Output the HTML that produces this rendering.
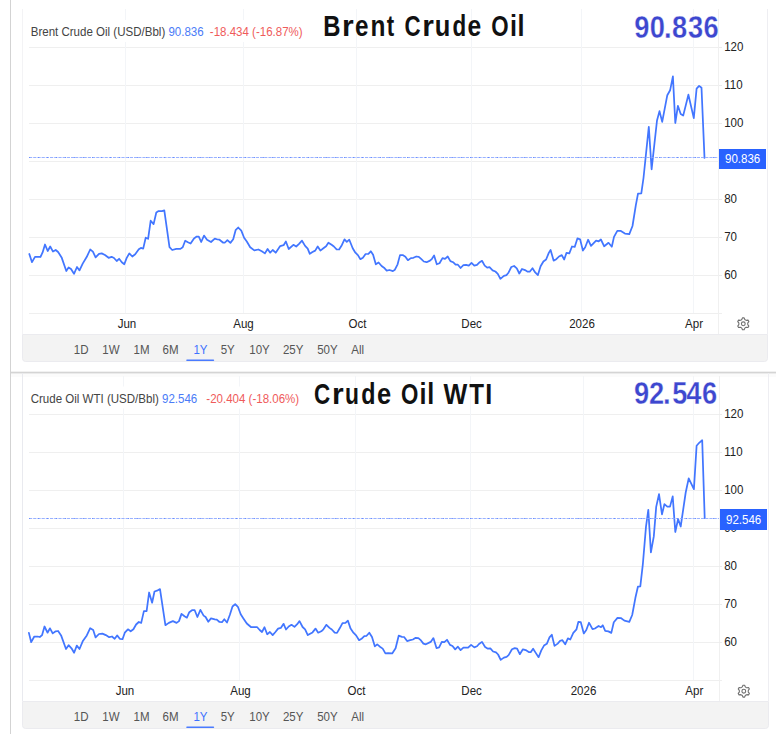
<!DOCTYPE html>
<html><head><meta charset="utf-8"><style>
html,body{margin:0;padding:0;background:#fff;}
body{width:776px;height:734px;overflow:hidden;position:relative;}
svg{position:absolute;left:0;top:0;display:block;}
text{font-family:"Liberation Sans", sans-serif;}
.lg{font-size:12.4px;fill:#444;}
.ax{font-size:12.4px;fill:#222;}
.red{fill:#ef5b5b;}
.blue{fill:#4a7bf7;}
.rg{font-size:12.4px;fill:#555;}
.rg.on{fill:#3f72ff;}
.bx{font-size:12.4px;fill:#fff;}
.tt{font-size:28.6px;font-weight:bold;fill:#111;stroke:none;}
.big{font-size:31px;font-weight:bold;fill:#3d47cf;stroke:#fff;stroke-width:0.3px;}
</style></head><body>
<svg width="776" height="734" viewBox="0 0 776 734">
<rect x="10" y="0" width="1" height="734" fill="#d3d3d3"/>
<rect x="11" y="371" width="765" height="1" fill="#f1f1f1"/>
<rect x="11" y="372" width="765" height="1" fill="#d4d4d4"/>
<rect x="11" y="373" width="765" height="1" fill="#ebebeb"/>
<rect x="11" y="374" width="765" height="3" fill="#fbfbfb"/>
<rect x="22" y="9" width="1" height="325" fill="#f3f3f5"/>
<rect x="767" y="9" width="1" height="325" fill="#eeeef2"/>
<rect x="29" y="47" width="693" height="1" fill="#efefef"/>
<rect x="29" y="85" width="693" height="1" fill="#efefef"/>
<rect x="29" y="123" width="693" height="1" fill="#efefef"/>
<rect x="29" y="161" width="693" height="1" fill="#efefef"/>
<rect x="29" y="199" width="693" height="1" fill="#efefef"/>
<rect x="29" y="237" width="693" height="1" fill="#efefef"/>
<rect x="29" y="275" width="693" height="1" fill="#efefef"/>
<rect x="29" y="313" width="693" height="1" fill="#efefef"/>
<rect x="125" y="9" width="1" height="304" fill="#f3f5f8"/>
<rect x="243" y="9" width="1" height="304" fill="#f3f5f8"/>
<rect x="356" y="9" width="1" height="304" fill="#f3f5f8"/>
<rect x="471" y="9" width="1" height="304" fill="#f3f5f8"/>
<rect x="581" y="9" width="1" height="304" fill="#f3f5f8"/>
<rect x="693" y="9" width="1" height="304" fill="#f3f5f8"/>
<rect x="718" y="9" width="1" height="325" fill="#f0f0f0"/>
<rect x="29" y="20" width="277" height="22" fill="#fff"/>
<path d="M22.5,334.5 H767.5 V358.5 Q767.5,361.5 764.5,361.5 H25.5 Q22.5,361.5 22.5,358.5 Z" fill="#f3f3f3" stroke="#ebebef" stroke-width="1"/>
<g transform="translate(724.20,51.30) scale(0.93,1)"><text x="0" y="0" class="ax">120</text></g>
<rect x="719" y="47" width="3" height="1" fill="#ececec"/>
<g transform="translate(724.20,89.30) scale(0.93,1)"><text x="0" y="0" class="ax">110</text></g>
<rect x="719" y="85" width="3" height="1" fill="#ececec"/>
<g transform="translate(724.20,127.30) scale(0.93,1)"><text x="0" y="0" class="ax">100</text></g>
<rect x="719" y="123" width="3" height="1" fill="#ececec"/>
<g transform="translate(724.20,165.30) scale(0.93,1)"><text x="0" y="0" class="ax">90</text></g>
<rect x="719" y="161" width="3" height="1" fill="#ececec"/>
<g transform="translate(724.20,203.30) scale(0.93,1)"><text x="0" y="0" class="ax">80</text></g>
<rect x="719" y="199" width="3" height="1" fill="#ececec"/>
<g transform="translate(724.20,241.30) scale(0.93,1)"><text x="0" y="0" class="ax">70</text></g>
<rect x="719" y="237" width="3" height="1" fill="#ececec"/>
<g transform="translate(724.20,279.30) scale(0.93,1)"><text x="0" y="0" class="ax">60</text></g>
<rect x="719" y="275" width="3" height="1" fill="#ececec"/>
<g transform="translate(127.00,327.80) scale(0.93,1)"><text x="0" y="0" class="ax" text-anchor="middle">Jun</text></g>
<g transform="translate(243.50,327.80) scale(0.93,1)"><text x="0" y="0" class="ax" text-anchor="middle">Aug</text></g>
<g transform="translate(357.50,327.80) scale(0.93,1)"><text x="0" y="0" class="ax" text-anchor="middle">Oct</text></g>
<g transform="translate(471.60,327.80) scale(0.93,1)"><text x="0" y="0" class="ax" text-anchor="middle">Dec</text></g>
<g transform="translate(582.00,327.80) scale(0.93,1)"><text x="0" y="0" class="ax" text-anchor="middle">2026</text></g>
<g transform="translate(694.00,327.80) scale(0.93,1)"><text x="0" y="0" class="ax" text-anchor="middle">Apr</text></g>
<g transform="translate(73.80,353.80) scale(0.93,1)"><text x="0" y="0" class="rg">1D</text></g>
<g transform="translate(102.30,353.80) scale(0.93,1)"><text x="0" y="0" class="rg">1W</text></g>
<g transform="translate(133.60,353.80) scale(0.93,1)"><text x="0" y="0" class="rg">1M</text></g>
<g transform="translate(162.50,353.80) scale(0.93,1)"><text x="0" y="0" class="rg">6M</text></g>
<g transform="translate(193.40,353.80) scale(0.93,1)"><text x="0" y="0" class="rg on">1Y</text></g>
<g transform="translate(220.70,353.80) scale(0.93,1)"><text x="0" y="0" class="rg">5Y</text></g>
<g transform="translate(249.30,353.80) scale(0.93,1)"><text x="0" y="0" class="rg">10Y</text></g>
<g transform="translate(282.90,353.80) scale(0.93,1)"><text x="0" y="0" class="rg">25Y</text></g>
<g transform="translate(317.20,353.80) scale(0.93,1)"><text x="0" y="0" class="rg">50Y</text></g>
<g transform="translate(351.30,353.80) scale(0.93,1)"><text x="0" y="0" class="rg">All</text></g>
<rect x="186.2" y="359.5" width="28" height="1.6" rx="0.8" fill="#4a7bff"/>
<path d="M741.10,319.99 L741.80,319.45 L742.46,317.86 L744.14,317.86 L744.80,319.45 L745.50,319.99 L746.32,320.33 L748.03,320.11 L748.86,321.55 L747.82,322.92 L747.70,323.80 L747.82,324.68 L748.86,326.05 L748.03,327.49 L746.32,327.27 L745.50,327.61 L744.80,328.15 L744.14,329.74 L742.46,329.74 L741.80,328.15 L741.10,327.61 L740.28,327.27 L738.57,327.49 L737.74,326.05 L738.78,324.68 L738.90,323.80 L738.78,322.92 L737.74,321.55 L738.57,320.11 L740.28,320.33Z" fill="none" stroke="#6f6f6f" stroke-width="1.1" stroke-linejoin="round"/><circle cx="743.3" cy="323.8" r="1.9" fill="none" stroke="#6f6f6f" stroke-width="1.1"/>
<path d="M29.3,254.0 L32.0,262.2 L35.0,256.8 L39.0,256.8 L40.4,257.0 L42.5,252.7 L45.0,244.5 L47.7,251.0 L50.2,246.5 L53.0,251.6 L55.7,250.0 L58.1,252.0 L61.6,257.4 L66.3,271.0 L68.6,267.4 L71.0,269.0 L74.0,273.8 L77.0,267.0 L79.5,270.4 L82.7,263.6 L86.8,256.8 L90.2,249.5 L92.9,251.6 L95.6,257.4 L99.0,253.8 L101.7,253.4 L105.0,255.0 L108.6,257.8 L111.6,256.8 L114.0,258.0 L116.7,261.0 L119.1,258.8 L121.8,262.2 L124.3,264.2 L126.6,258.1 L129.3,253.4 L132.3,256.5 L135.2,254.3 L138.8,249.3 L140.9,247.9 L143.2,248.6 L145.7,237.7 L148.1,238.8 L150.7,220.7 L153.6,224.1 L156.3,212.5 L158.6,211.1 L162.0,211.1 L164.3,210.4 L169.5,247.2 L172.2,250.0 L176.3,248.9 L180.4,248.9 L182.7,247.2 L185.2,240.7 L187.9,242.2 L190.6,243.5 L194.0,238.4 L196.7,236.6 L198.8,236.6 L201.2,242.0 L204.0,235.6 L207.0,239.7 L211.0,242.0 L214.8,238.6 L217.5,239.5 L219.5,239.7 L222.9,242.5 L225.0,242.5 L227.4,240.1 L230.4,242.9 L233.2,239.3 L235.6,230.2 L238.2,227.5 L241.3,230.6 L244.1,237.7 L246.8,241.5 L250.2,247.2 L254.3,250.4 L258.4,249.5 L261.8,251.3 L264.9,253.4 L267.6,249.0 L270.2,252.7 L272.7,250.0 L275.7,252.7 L280.2,246.1 L283.6,245.2 L285.9,241.5 L288.7,249.0 L293.4,244.8 L296.2,246.5 L298.8,244.1 L302.0,240.7 L305.1,245.9 L307.7,248.6 L309.8,253.8 L312.5,252.0 L315.2,250.6 L317.7,246.5 L320.4,250.6 L323.4,248.3 L326.1,246.3 L328.4,242.7 L331.6,244.8 L333.9,246.5 L336.6,249.3 L339.1,249.5 L341.8,245.2 L344.5,239.3 L346.8,241.8 L349.3,239.7 L352.7,248.3 L355.4,252.7 L357.9,255.1 L360.4,259.2 L362.9,257.7 L365.6,254.0 L368.4,253.8 L370.8,251.3 L373.1,254.7 L375.8,264.3 L378.6,262.5 L381.6,266.0 L384.0,267.7 L386.7,270.7 L389.5,270.0 L392.9,271.1 L394.9,269.7 L397.6,264.3 L400.0,255.1 L402.7,255.1 L405.4,256.8 L407.9,260.2 L410.9,258.1 L413.4,257.8 L416.3,256.5 L418.8,256.8 L421.1,258.8 L423.8,261.5 L426.6,262.2 L430.0,260.6 L432.0,258.8 L434.1,255.4 L436.8,264.3 L439.5,263.3 L442.5,258.1 L445.0,258.8 L447.7,256.5 L450.4,261.1 L453.1,262.2 L455.6,264.7 L457.9,264.7 L460.6,268.0 L463.4,265.2 L466.1,264.9 L468.8,265.6 L471.5,262.9 L474.3,265.6 L477.0,264.9 L479.7,262.2 L482.0,260.8 L484.7,265.6 L487.2,267.7 L489.5,267.2 L492.6,270.4 L495.4,271.5 L497.8,273.8 L500.4,278.8 L503.9,275.8 L506.6,275.1 L508.6,272.4 L511.3,267.0 L514.1,266.0 L516.8,268.3 L519.3,273.5 L522.0,269.0 L525.0,270.1 L527.7,271.7 L529.7,271.7 L532.5,268.3 L535.2,272.4 L537.9,275.1 L540.6,266.3 L543.4,261.5 L546.1,259.5 L548.8,252.9 L550.6,249.9 L553.6,260.6 L556.3,259.2 L559.0,256.5 L561.8,255.1 L564.2,259.5 L566.5,252.9 L569.3,253.4 L572.0,246.5 L574.7,246.9 L577.4,238.4 L580.1,239.3 L582.9,250.6 L585.2,247.2 L588.1,239.7 L591.0,245.9 L596.1,240.6 L598.7,241.3 L600.9,239.5 L604.2,246.3 L608.5,242.8 L611.8,246.7 L614.0,236.9 L617.3,230.8 L620.5,230.8 L624.9,233.6 L629.3,234.1 L632.5,226.0 L635.8,205.3 L638.0,193.7 L641.3,193.3 L643.5,178.0 L648.8,126.8 L651.6,169.3 L657.0,120.5 L659.5,111.1 L662.2,121.9 L667.3,95.2 L670.1,90.3 L672.9,76.4 L675.3,123.0 L677.9,105.8 L680.7,114.0 L683.2,115.6 L688.4,94.7 L693.8,118.1 L696.6,88.6 L699.1,85.9 L701.5,87.8 L704.5,157.9" fill="none" stroke="#4276ff" stroke-width="1.75" stroke-linejoin="round" stroke-linecap="round"/>
<line x1="29" y1="157.5" x2="718" y2="157.5" stroke="#8aa6ff" stroke-width="1" stroke-dasharray="3.2,1" opacity="0.85"/><line x1="29" y1="157.5" x2="718" y2="157.5" stroke="#5f86ff" stroke-width="1" stroke-dasharray="1,8" opacity="0.8"/>
<rect x="719" y="149" width="47" height="20" fill="#2962ff"/>
<g transform="translate(725.00,162.70) scale(0.93,1)"><text x="0" y="0" class="bx">90.836</text></g>
<g transform="translate(30.70,35.80) scale(0.93,1)"><text x="0" y="0" class="lg">Brent Crude Oil (USD/Bbl) <tspan class="blue">90.836</tspan></text></g>
<g transform="translate(209.80,35.80) scale(0.93,1)"><text x="0" y="0" class="lg red">-18.434 (-16.87%)</text></g>
<g transform="translate(332.20,35.9) scale(0.834,1)"><text x="-10.65" y="0" class="tt">B</text></g><g transform="translate(348.50,35.9) scale(1.050,1)"><text x="-6.30" y="0" class="tt">r</text></g><g transform="translate(361.75,35.9) scale(0.848,1)"><text x="-8.00" y="0" class="tt">e</text></g><g transform="translate(377.90,35.9) scale(0.855,1)"><text x="-8.80" y="0" class="tt">n</text></g><g transform="translate(390.50,35.9) scale(0.780,1)"><text x="-4.75" y="0" class="tt">t</text></g><g transform="translate(412.65,35.9) scale(0.780,1)"><text x="-10.50" y="0" class="tt">C</text></g><g transform="translate(428.90,35.9) scale(1.045,1)"><text x="-6.30" y="0" class="tt">r</text></g><g transform="translate(442.55,35.9) scale(0.891,1)"><text x="-8.70" y="0" class="tt">u</text></g><g transform="translate(459.05,35.9) scale(0.785,1)"><text x="-8.40" y="0" class="tt">d</text></g><g transform="translate(474.35,35.9) scale(0.862,1)"><text x="-8.00" y="0" class="tt">e</text></g><g transform="translate(500.00,35.9) scale(0.780,1)"><text x="-11.10" y="0" class="tt">O</text></g><g transform="translate(513.35,35.9) scale(0.880,1)"><text x="-3.95" y="0" class="tt">i</text></g><g transform="translate(521.00,35.9) scale(0.880,1)"><text x="-3.95" y="0" class="tt">l</text></g>
<g transform="translate(641.70,37.8) scale(0.880,1)"><text x="-8.60" y="0" class="big">9</text></g><g transform="translate(657.20,37.8) scale(0.880,1)"><text x="-8.60" y="0" class="big">0</text></g><g transform="translate(667.90,37.8) scale(0.880,1)"><text x="-4.30" y="0" class="big">.</text></g><g transform="translate(679.50,37.8) scale(0.880,1)"><text x="-8.65" y="0" class="big">8</text></g><g transform="translate(695.40,37.8) scale(0.880,1)"><text x="-8.40" y="0" class="big">3</text></g><g transform="translate(711.10,37.8) scale(0.880,1)"><text x="-8.60" y="0" class="big">6</text></g>
<rect x="22" y="373" width="1" height="328" fill="#e9eaef"/>
<rect x="768" y="373" width="1" height="328" fill="#eeeef2"/>
<rect x="29" y="414" width="693" height="1" fill="#efefef"/>
<rect x="29" y="452" width="693" height="1" fill="#efefef"/>
<rect x="29" y="490" width="693" height="1" fill="#efefef"/>
<rect x="29" y="528" width="693" height="1" fill="#efefef"/>
<rect x="29" y="566" width="693" height="1" fill="#efefef"/>
<rect x="29" y="604" width="693" height="1" fill="#efefef"/>
<rect x="29" y="642" width="693" height="1" fill="#efefef"/>
<rect x="29" y="680" width="693" height="1" fill="#efefef"/>
<rect x="123" y="376" width="1" height="304" fill="#f3f5f8"/>
<rect x="239" y="376" width="1" height="304" fill="#f3f5f8"/>
<rect x="355" y="376" width="1" height="304" fill="#f3f5f8"/>
<rect x="470" y="376" width="1" height="304" fill="#f3f5f8"/>
<rect x="583" y="376" width="1" height="304" fill="#f3f5f8"/>
<rect x="693" y="376" width="1" height="304" fill="#f3f5f8"/>
<rect x="719" y="376" width="1" height="325" fill="#f0f0f0"/>
<rect x="29" y="386.5" width="272" height="22" fill="#fff"/>
<path d="M22.5,701.5 H768.5 V725.5 Q768.5,728.5 765.5,728.5 H25.5 Q22.5,728.5 22.5,725.5 Z" fill="#f3f3f3" stroke="#ebebef" stroke-width="1"/>
<g transform="translate(724.20,418.30) scale(0.93,1)"><text x="0" y="0" class="ax">120</text></g>
<rect x="719" y="414" width="3" height="1" fill="#ececec"/>
<g transform="translate(724.20,456.30) scale(0.93,1)"><text x="0" y="0" class="ax">110</text></g>
<rect x="719" y="452" width="3" height="1" fill="#ececec"/>
<g transform="translate(724.20,494.30) scale(0.93,1)"><text x="0" y="0" class="ax">100</text></g>
<rect x="719" y="490" width="3" height="1" fill="#ececec"/>
<g transform="translate(724.20,532.30) scale(0.93,1)"><text x="0" y="0" class="ax">90</text></g>
<rect x="719" y="528" width="3" height="1" fill="#ececec"/>
<g transform="translate(724.20,570.30) scale(0.93,1)"><text x="0" y="0" class="ax">80</text></g>
<rect x="719" y="566" width="3" height="1" fill="#ececec"/>
<g transform="translate(724.20,608.30) scale(0.93,1)"><text x="0" y="0" class="ax">70</text></g>
<rect x="719" y="604" width="3" height="1" fill="#ececec"/>
<g transform="translate(724.20,646.30) scale(0.93,1)"><text x="0" y="0" class="ax">60</text></g>
<rect x="719" y="642" width="3" height="1" fill="#ececec"/>
<g transform="translate(125.00,694.80) scale(0.93,1)"><text x="0" y="0" class="ax" text-anchor="middle">Jun</text></g>
<g transform="translate(240.50,694.80) scale(0.93,1)"><text x="0" y="0" class="ax" text-anchor="middle">Aug</text></g>
<g transform="translate(356.50,694.80) scale(0.93,1)"><text x="0" y="0" class="ax" text-anchor="middle">Oct</text></g>
<g transform="translate(471.60,694.80) scale(0.93,1)"><text x="0" y="0" class="ax" text-anchor="middle">Dec</text></g>
<g transform="translate(583.50,694.80) scale(0.93,1)"><text x="0" y="0" class="ax" text-anchor="middle">2026</text></g>
<g transform="translate(694.30,694.80) scale(0.93,1)"><text x="0" y="0" class="ax" text-anchor="middle">Apr</text></g>
<g transform="translate(73.80,720.60) scale(0.93,1)"><text x="0" y="0" class="rg">1D</text></g>
<g transform="translate(102.30,720.60) scale(0.93,1)"><text x="0" y="0" class="rg">1W</text></g>
<g transform="translate(133.60,720.60) scale(0.93,1)"><text x="0" y="0" class="rg">1M</text></g>
<g transform="translate(162.50,720.60) scale(0.93,1)"><text x="0" y="0" class="rg">6M</text></g>
<g transform="translate(193.40,720.60) scale(0.93,1)"><text x="0" y="0" class="rg on">1Y</text></g>
<g transform="translate(220.70,720.60) scale(0.93,1)"><text x="0" y="0" class="rg">5Y</text></g>
<g transform="translate(249.30,720.60) scale(0.93,1)"><text x="0" y="0" class="rg">10Y</text></g>
<g transform="translate(282.90,720.60) scale(0.93,1)"><text x="0" y="0" class="rg">25Y</text></g>
<g transform="translate(317.20,720.60) scale(0.93,1)"><text x="0" y="0" class="rg">50Y</text></g>
<g transform="translate(351.30,720.60) scale(0.93,1)"><text x="0" y="0" class="rg">All</text></g>
<rect x="186.2" y="726.5" width="28" height="1.6" rx="0.8" fill="#4a7bff"/>
<path d="M741.60,687.39 L742.30,686.85 L742.96,685.26 L744.64,685.26 L745.30,686.85 L746.00,687.39 L746.82,687.73 L748.53,687.51 L749.36,688.95 L748.32,690.32 L748.20,691.20 L748.32,692.08 L749.36,693.45 L748.53,694.89 L746.82,694.67 L746.00,695.01 L745.30,695.55 L744.64,697.14 L742.96,697.14 L742.30,695.55 L741.60,695.01 L740.78,694.67 L739.07,694.89 L738.24,693.45 L739.28,692.08 L739.40,691.20 L739.28,690.32 L738.24,688.95 L739.07,687.51 L740.78,687.73Z" fill="none" stroke="#6f6f6f" stroke-width="1.1" stroke-linejoin="round"/><circle cx="743.8" cy="691.2" r="1.9" fill="none" stroke="#6f6f6f" stroke-width="1.1"/>
<path d="M28.9,632.9 L31.2,642.2 L34.3,636.5 L37.7,636.5 L39.8,637.0 L42.1,635.1 L44.5,626.5 L47.5,632.7 L50.0,628.3 L52.7,633.4 L55.7,631.3 L58.1,631.0 L61.1,635.4 L66.0,649.0 L68.6,645.2 L71.5,648.3 L74.1,652.8 L76.8,645.6 L79.5,649.0 L82.7,641.3 L86.8,635.4 L90.2,628.2 L93.2,630.0 L95.6,637.4 L99.0,634.0 L102.4,633.6 L105.8,635.1 L109.2,637.2 L112.0,636.5 L114.7,638.8 L117.1,635.4 L119.8,638.8 L122.5,639.2 L124.8,632.7 L127.9,629.3 L130.7,631.3 L133.4,629.3 L136.1,624.5 L138.8,622.0 L141.2,622.9 L143.9,611.1 L146.6,611.1 L149.1,592.5 L152.1,602.7 L154.5,591.5 L157.0,590.7 L160.0,589.1 L165.4,625.2 L168.8,622.9 L172.9,621.1 L176.6,622.9 L179.0,621.1 L181.5,613.9 L184.5,616.3 L186.9,617.7 L189.3,612.2 L192.0,610.2 L194.7,610.2 L197.4,617.0 L200.4,609.9 L203.6,615.6 L205.6,617.0 L208.3,621.8 L211.0,618.4 L214.8,619.3 L216.8,619.7 L219.5,622.0 L222.0,622.2 L224.3,619.3 L227.0,622.5 L229.8,615.0 L232.5,606.5 L235.2,604.1 L237.9,606.8 L240.7,614.3 L243.4,618.4 L246.8,623.5 L250.9,627.0 L257.0,627.0 L259.7,630.0 L262.0,632.0 L264.5,627.2 L267.2,634.3 L269.9,632.0 L272.7,635.1 L275.4,632.0 L278.1,628.6 L280.8,627.9 L283.6,623.8 L286.0,629.5 L288.7,626.5 L291.5,624.8 L294.5,626.9 L297.2,624.2 L299.5,621.1 L302.6,627.0 L305.1,629.3 L307.8,635.1 L312.5,632.4 L315.5,628.6 L318.2,632.7 L321.3,631.3 L323.4,629.3 L326.4,624.8 L329.5,627.9 L331.8,629.5 L334.7,632.7 L337.0,632.9 L339.7,628.3 L342.5,623.1 L345.5,622.9 L347.9,620.7 L350.6,628.6 L353.4,632.7 L356.1,635.4 L359.1,640.2 L361.5,638.8 L364.3,636.1 L366.6,635.8 L369.3,632.7 L372.0,637.0 L374.8,646.3 L377.2,644.3 L379.9,646.7 L382.7,648.6 L385.4,653.4 L388.1,653.1 L392.2,653.4 L395.6,648.3 L398.7,635.7 L402.0,636.8 L404.1,637.0 L407.1,641.1 L410.2,640.2 L412.9,639.5 L415.7,637.8 L418.4,638.1 L420.4,639.8 L423.4,643.6 L425.9,644.3 L430.7,641.9 L433.4,638.1 L436.5,648.1 L439.1,647.4 L441.8,641.8 L444.3,642.2 L447.0,639.8 L450.0,644.9 L452.5,646.0 L455.2,649.4 L457.9,646.7 L460.6,650.1 L463.4,647.7 L468.1,647.7 L471.1,644.9 L474.3,647.4 L477.0,646.3 L479.0,644.0 L482.0,641.9 L485.1,647.0 L487.9,648.7 L490.3,648.3 L493.1,651.5 L496.0,652.4 L498.1,654.5 L500.7,659.9 L503.9,657.6 L506.6,656.8 L508.6,655.1 L512.0,649.3 L514.8,648.1 L517.1,648.6 L519.8,654.2 L522.9,649.3 L525.7,650.1 L529.1,652.2 L530.7,652.2 L533.1,648.7 L535.9,653.1 L538.6,657.2 L541.3,650.4 L544.0,645.6 L546.8,643.8 L549.5,637.4 L551.8,634.7 L554.5,645.9 L557.7,643.6 L560.1,640.8 L562.4,640.2 L565.2,644.3 L567.9,638.4 L570.3,639.5 L573.3,632.9 L576.5,629.3 L578.4,621.8 L580.8,622.2 L583.8,633.4 L586.3,630.0 L589.0,622.7 L592.5,629.2 L594.9,628.5 L598.6,626.0 L601.0,627.2 L602.8,625.3 L605.2,630.9 L608.4,631.4 L611.3,632.9 L613.8,622.3 L617.5,617.9 L621.2,618.2 L624.4,620.6 L629.3,621.8 L632.2,615.0 L635.4,597.8 L637.9,586.7 L640.3,586.3 L642.8,564.7 L646.0,526.6 L648.3,509.8 L650.9,552.4 L653.8,536.4 L656.2,506.9 L659.0,494.2 L662.0,514.4 L664.4,504.2 L667.3,506.6 L670.0,506.6 L672.7,496.4 L675.3,532.0 L678.1,519.0 L680.7,526.5 L685.7,492.5 L688.7,478.4 L693.9,489.2 L696.6,445.8 L699.2,442.8 L702.2,440.2 L704.7,518.1" fill="none" stroke="#4276ff" stroke-width="1.75" stroke-linejoin="round" stroke-linecap="round"/>
<line x1="29" y1="518.5" x2="719" y2="518.5" stroke="#8aa6ff" stroke-width="1" stroke-dasharray="3.2,1" opacity="0.85"/><line x1="29" y1="518.5" x2="719" y2="518.5" stroke="#5f86ff" stroke-width="1" stroke-dasharray="1,8" opacity="0.8"/>
<rect x="720" y="509" width="47" height="21" fill="#2962ff"/>
<g transform="translate(726.00,524.20) scale(0.93,1)"><text x="0" y="0" class="bx">92.546</text></g>
<g transform="translate(30.70,402.60) scale(0.93,1)"><text x="0" y="0" class="lg">Crude Oil WTI (USD/Bbl) <tspan class="blue">92.546</tspan></text></g>
<g transform="translate(206.30,402.60) scale(0.93,1)"><text x="0" y="0" class="lg red">-20.404 (-18.06%)</text></g>
<g transform="translate(322.20,403.7) scale(0.785,1)"><text x="-10.50" y="0" class="tt">C</text></g><g transform="translate(338.50,403.7) scale(1.050,1)"><text x="-6.30" y="0" class="tt">r</text></g><g transform="translate(351.90,403.7) scale(0.797,1)"><text x="-8.70" y="0" class="tt">u</text></g><g transform="translate(368.05,403.7) scale(0.813,1)"><text x="-8.40" y="0" class="tt">d</text></g><g transform="translate(384.15,403.7) scale(0.891,1)"><text x="-8.00" y="0" class="tt">e</text></g><g transform="translate(409.70,403.7) scale(0.780,1)"><text x="-11.10" y="0" class="tt">O</text></g><g transform="translate(423.00,403.7) scale(0.880,1)"><text x="-3.95" y="0" class="tt">i</text></g><g transform="translate(430.60,403.7) scale(0.880,1)"><text x="-3.95" y="0" class="tt">l</text></g><g transform="translate(455.40,403.7) scale(0.881,1)"><text x="-13.50" y="0" class="tt">W</text></g><g transform="translate(476.75,403.7) scale(0.846,1)"><text x="-8.75" y="0" class="tt">T</text></g><g transform="translate(488.75,403.7) scale(0.880,1)"><text x="-3.95" y="0" class="tt">I</text></g>
<g transform="translate(641.50,404) scale(0.880,1)"><text x="-8.60" y="0" class="big">9</text></g><g transform="translate(656.40,404) scale(0.880,1)"><text x="-8.55" y="0" class="big">2</text></g><g transform="translate(666.80,404) scale(0.880,1)"><text x="-4.30" y="0" class="big">.</text></g><g transform="translate(679.85,404) scale(0.880,1)"><text x="-8.70" y="0" class="big">5</text></g><g transform="translate(694.10,404) scale(0.880,1)"><text x="-8.80" y="0" class="big">4</text></g><g transform="translate(709.45,404) scale(0.880,1)"><text x="-8.60" y="0" class="big">6</text></g>
</svg>
</body></html>
